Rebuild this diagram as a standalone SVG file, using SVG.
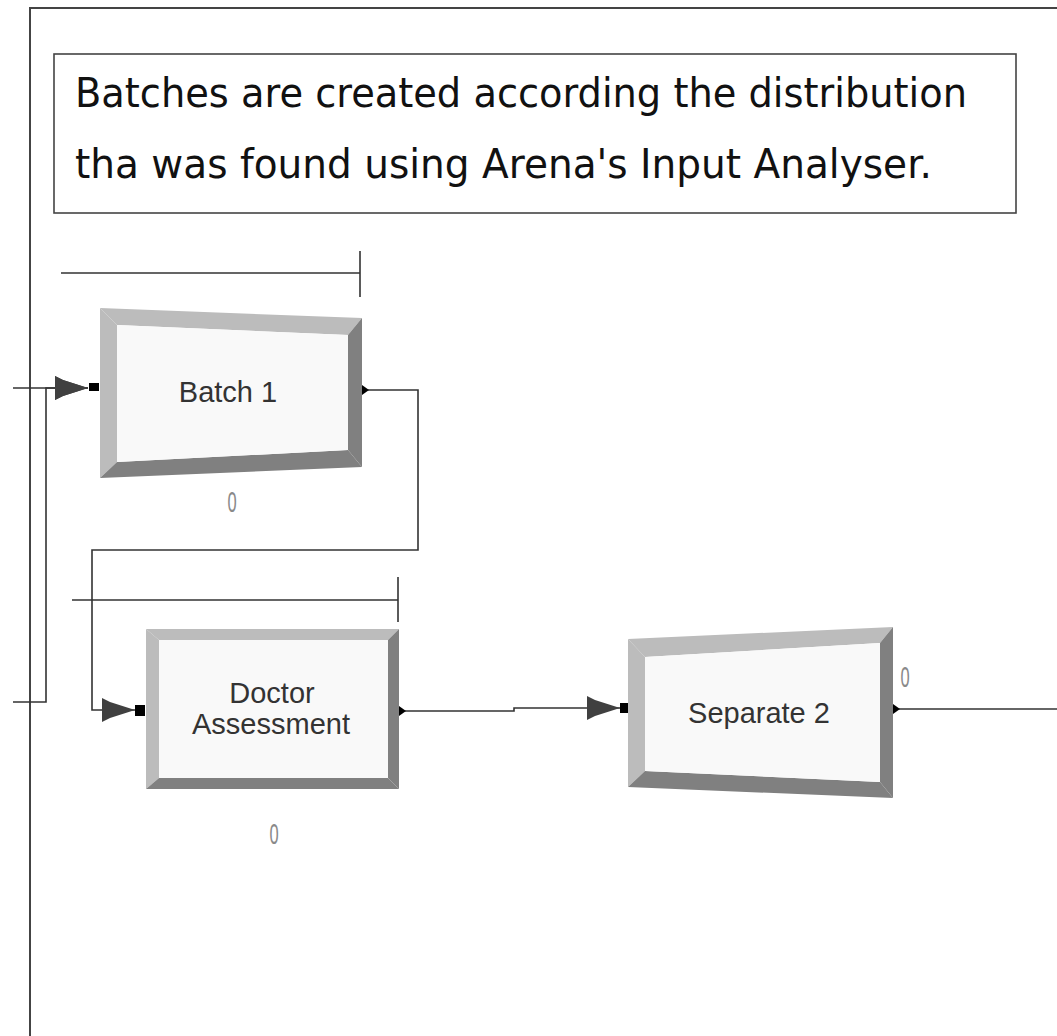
<svg xmlns="http://www.w3.org/2000/svg" width="1057" height="1036" viewBox="0 0 1057 1036">
  <style>
    .frame { fill: none; stroke: #444; stroke-width: 2; }
    .note { fill: #fff; stroke: #444; stroke-width: 1.6; }
    .note-text { font-family: "DejaVu Sans", "Liberation Sans", sans-serif; font-size: 40px; fill: #111; }
    .conn { fill: none; stroke: #333; stroke-width: 1.6; }
    .queue { fill: none; stroke: #333; stroke-width: 1.6; }
    .lite { fill: #bcbcbc; }
    .dark { fill: #808080; }
    .face { fill: #f9f9f9; }
    .label { font-family: "Liberation Sans", Arial, sans-serif; font-size: 29px; fill: #333; text-anchor: middle; }
    .count { font-family: "Liberation Sans", Arial, sans-serif; font-size: 30px; fill: #8a8a8a; text-anchor: middle; }
    .port { fill: #000; }
  </style>
  <defs>
    <marker id="entry" markerUnits="userSpaceOnUse" markerWidth="36" markerHeight="28" viewBox="-34 -14 36 28" refX="0" refY="0" orient="auto">
      <path d="M-33,-12 L-25,-8 L0,0 L-25,8 L-33,12 Z" fill="#404040"/>
    </marker>
  </defs>

  <rect width="1057" height="1036" fill="#fff"/>

  <!-- submodel boundary -->
  <g id="frame">
    <path class="frame" d="M1060,8 H30 V1040"/>
  </g>

  <!-- annotation -->
  <g id="note">
    <rect class="note" x="54" y="54" width="962" height="159"/>
    <text class="note-text" x="75" y="107" textLength="892" lengthAdjust="spacingAndGlyphs">Batches are created according the distribution</text>
    <text class="note-text" x="75" y="178" textLength="857" lengthAdjust="spacingAndGlyphs">tha was found using Arena's Input Analyser.</text>
  </g>

  <!-- connectors -->
  <g id="connectors">
    <path class="conn" d="M13,388 H88" marker-end="url(#entry)"/>
    <path class="conn" d="M13,702 H46 V388 H88" marker-end="url(#entry)"/>
    <path class="conn" d="M368,390 H418 V550 H92 V710 H135" marker-end="url(#entry)"/>
    <path class="conn" d="M405,711 H514 V708 H620" marker-end="url(#entry)"/>
    <path class="conn" d="M899,709 H1060"/>
  </g>

  <!-- Batch 1 -->
  <g id="batch1">
    <path class="queue" d="M61,273 H360 M360,251 V297"/>
    <polygon class="lite" points="100,308 362,318 348,335 117,325"/>
    <polygon class="lite" points="100,308 117,325 117,462 100,478"/>
    <polygon class="dark" points="362,318 362,467 348,450 348,335"/>
    <polygon class="dark" points="100,478 117,462 348,450 362,467"/>
    <polygon class="face" points="117,325 348,335 348,450 117,462"/>
    <rect class="port" x="89" y="383" width="10" height="8"/>
    <polygon class="port" points="362,385 369,390 362,395"/>
    <text class="label" x="228" y="402">Batch 1</text>
    <text class="count" x="232" y="512" transform="translate(232 0) scale(0.55 1) translate(-232 0)">0</text>
  </g>

  <!-- Doctor Assessment -->
  <g id="doctor">
    <path class="queue" d="M72,600 H398 M398,577 V622"/>
    <polygon class="lite" points="146,629 399,629 388,640 159,640"/>
    <polygon class="lite" points="146,629 159,640 159,778 146,789"/>
    <polygon class="dark" points="399,629 399,789 388,778 388,640"/>
    <polygon class="dark" points="146,789 159,778 388,778 399,789"/>
    <rect class="face" x="159" y="640" width="229" height="138"/>
    <rect class="port" x="135" y="705" width="10" height="11"/>
    <polygon class="port" points="399,706 406,711 399,716"/>
    <text class="label" x="272" y="703">Doctor</text>
    <text class="label" x="271" y="734">Assessment</text>
    <text class="count" x="274" y="844" transform="translate(274 0) scale(0.55 1) translate(-274 0)">0</text>
  </g>

  <!-- Separate 2 -->
  <g id="separate2">
    <polygon class="lite" points="628,639 893,627 880,643 645,657"/>
    <polygon class="lite" points="628,639 645,657 645,771 628,787"/>
    <polygon class="dark" points="893,627 893,798 880,782 880,643"/>
    <polygon class="dark" points="628,787 645,771 880,782 893,798"/>
    <polygon class="face" points="645,657 880,643 880,782 645,771"/>
    <rect class="port" x="620" y="703" width="8" height="10"/>
    <polygon class="port" points="893,704 900,709 893,714"/>
    <text class="label" x="759" y="723">Separate 2</text>
    <text class="count" x="905" y="687" transform="translate(905 0) scale(0.55 1) translate(-905 0)">0</text>
  </g>
</svg>
